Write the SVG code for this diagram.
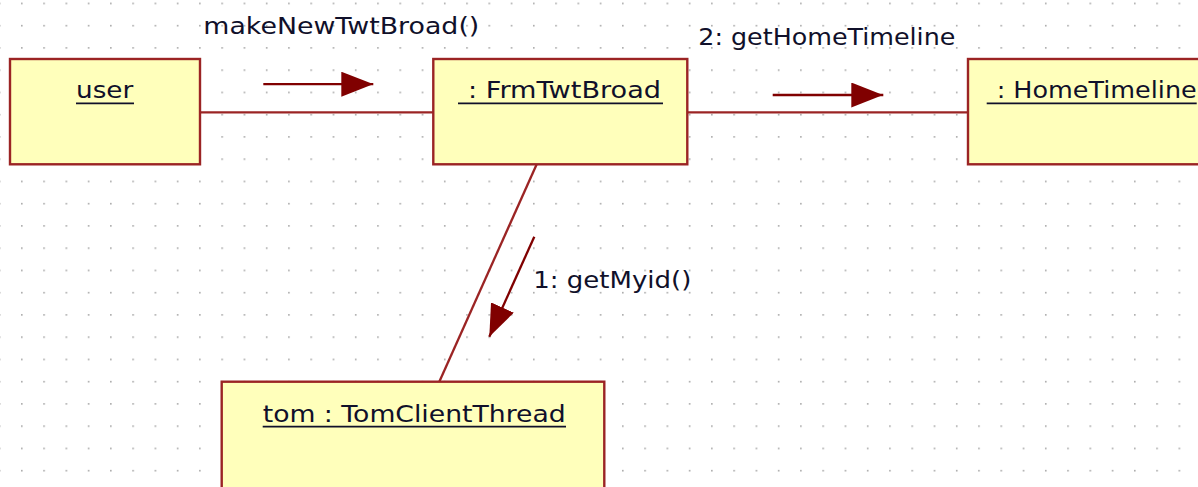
<svg xmlns="http://www.w3.org/2000/svg" width="1198" height="487" viewBox="0 0 1198 487">
<style>
.obj{fill:#FFFFBB;stroke:#9B2424;stroke-width:2.4}
.lnk{stroke:#9B2424;stroke-width:2.3;fill:none}
.msg{stroke:#800000;stroke-width:2.3;fill:none;marker-end:url(#head)}
.t{font-family:"DejaVu Sans",Verdana,sans-serif;font-size:23px;fill:#10102a}
.ul{stroke:#10102a;stroke-width:1.8}
</style>
<defs>
<pattern id="grid" patternUnits="userSpaceOnUse" x="21" y="2.6" width="22.26" height="22.25">
<rect x="0" y="0" width="1.6" height="1.6" fill="#a8a8a8"/>
</pattern>
<marker id="head" markerUnits="userSpaceOnUse" viewBox="0 0 32 25" markerWidth="32" markerHeight="25" refX="32" refY="12.5" orient="auto">
<path d="M0,0 L32,12.5 L0,25 z" fill="#800000"/>
</marker>
</defs>
<rect width="1198" height="487" fill="#ffffff"/>
<rect width="1198" height="487" fill="url(#grid)"/>
<g id="connectors">
<line class="lnk" x1="200" y1="112.3" x2="433.3" y2="112.3"/>
<line class="lnk" x1="687.3" y1="112.3" x2="968" y2="112.3"/>
<line class="lnk" x1="536.7" y1="164.3" x2="439.3" y2="381.7"/>
<line class="msg" x1="263.3" y1="84.2" x2="373.3" y2="84.2"/>
<text class="t" x="203.3" y="34.3" textLength="276" lengthAdjust="spacingAndGlyphs">makeNewTwtBroad()</text>
<line class="msg" x1="772.7" y1="95" x2="883.3" y2="95"/>
<text class="t" x="698.3" y="45" textLength="257" lengthAdjust="spacingAndGlyphs">2: getHomeTimeline</text>
<line class="msg" x1="534.3" y1="236.7" x2="489.3" y2="336.7"/>
<text class="t" x="533.3" y="288.3" textLength="158" lengthAdjust="spacingAndGlyphs">1: getMyid()</text>
</g>
<g id="user">
<rect class="obj" x="10" y="59" width="190" height="105.3"/>
<text class="t" x="76" y="98.3" textLength="57.3" lengthAdjust="spacingAndGlyphs">user</text>
<line class="ul" x1="76" y1="103.3" x2="134" y2="103.3"/>
</g>
<g id="frmTwtBroad">
<rect class="obj" x="433.3" y="59" width="254" height="105.3"/>
<text class="t" x="468" y="98.3" textLength="193" lengthAdjust="spacingAndGlyphs">: FrmTwtBroad</text>
<line class="ul" x1="458" y1="103.3" x2="663" y2="103.3"/>
</g>
<g id="homeTimeline">
<rect class="obj" x="968" y="59" width="240" height="105.3"/>
<text class="t" x="996.7" y="98.3" textLength="200" lengthAdjust="spacingAndGlyphs">: HomeTimeline</text>
<line class="ul" x1="986.7" y1="103.3" x2="1196.7" y2="103.3"/>
</g>
<g id="tomClientThread">
<rect class="obj" x="221.7" y="381.7" width="382.6" height="120"/>
<text class="t" x="262.7" y="421.7" textLength="303" lengthAdjust="spacingAndGlyphs">tom : TomClientThread</text>
<line class="ul" x1="262.7" y1="426.7" x2="566" y2="426.7"/>
</g>
</svg>
